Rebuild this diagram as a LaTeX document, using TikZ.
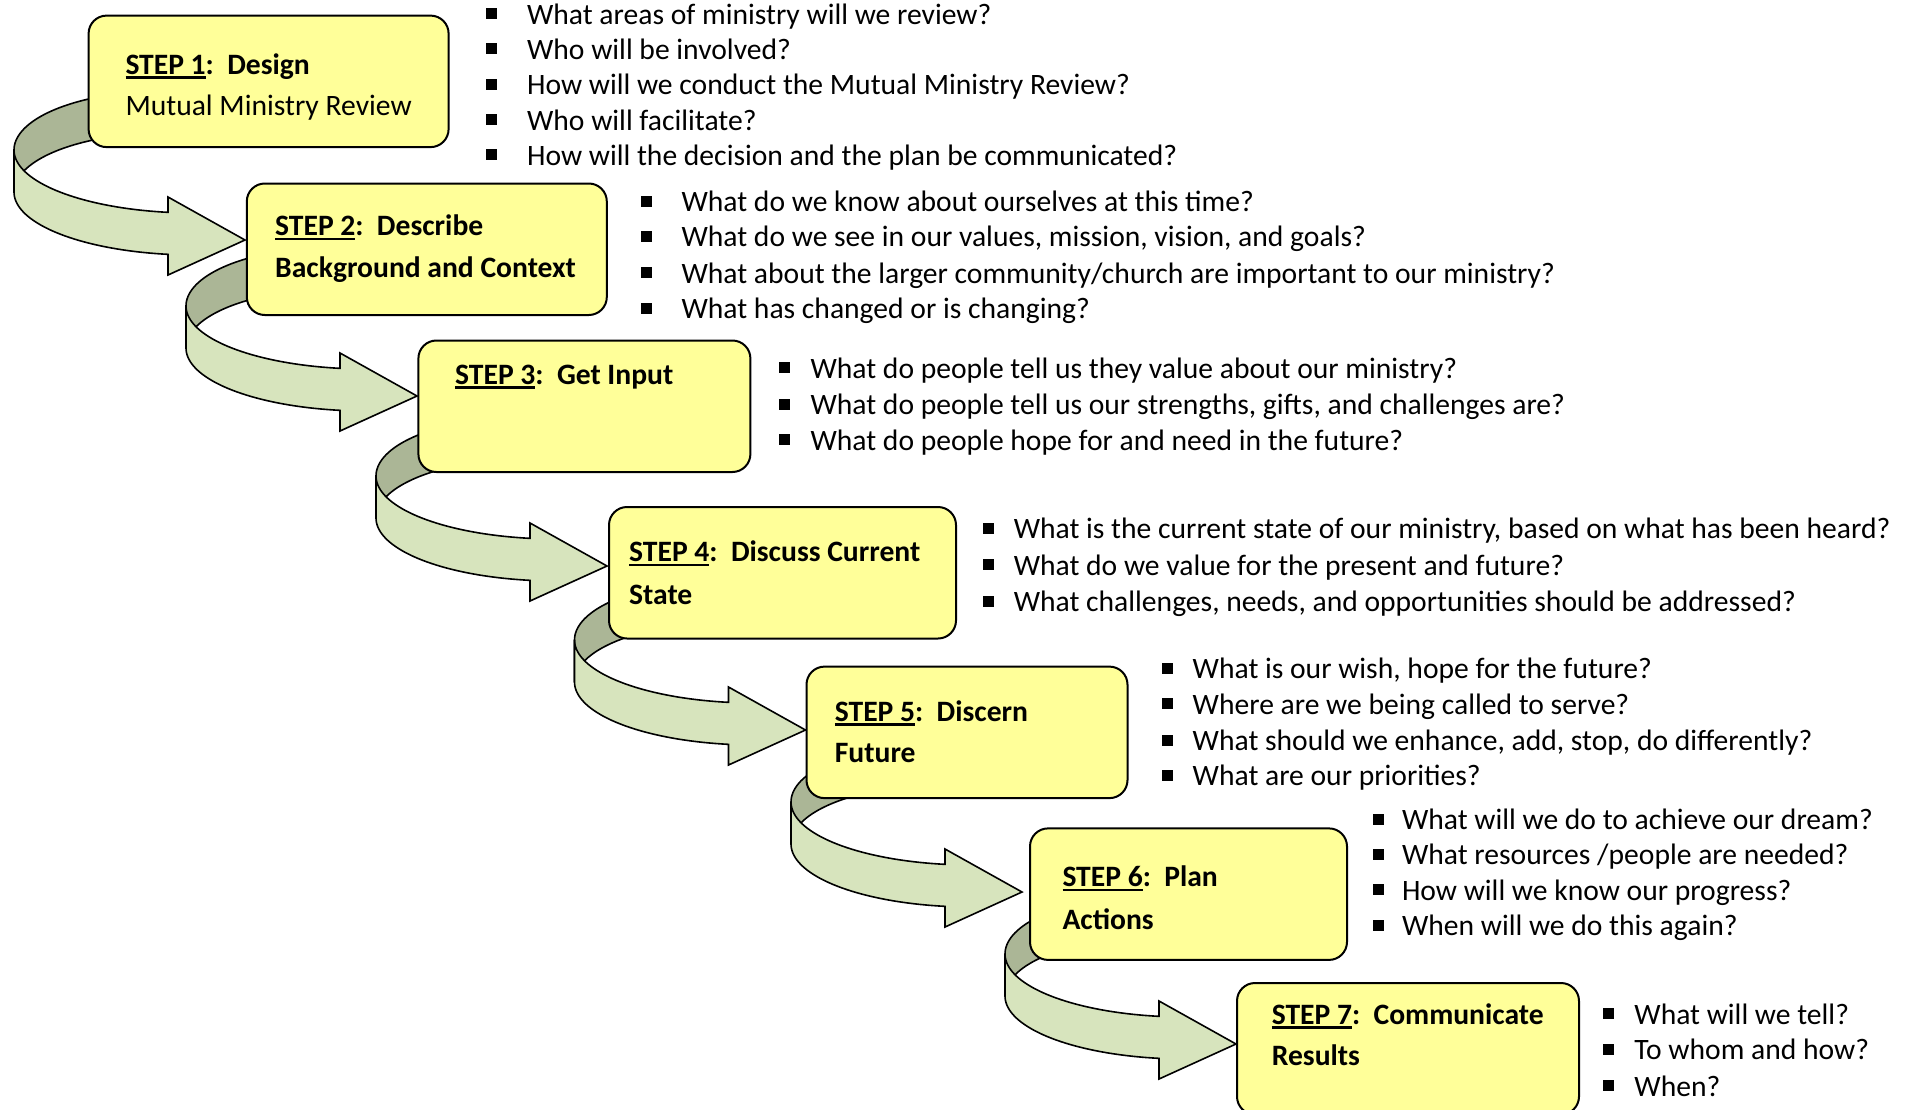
\documentclass[tikz,border=0pt]{standalone}
\usepackage{fontspec}
\setmainfont{Carlito}
\definecolor{boxfill}{HTML}{FFFF99}
\definecolor{bandlight}{HTML}{D7E4BD}
\definecolor{banddark}{HTML}{ABB696}
\newcommand{\stepul}[1]{\setbox0\hbox{#1}\rlap{\rule[-4.5pt]{\wd0}{2.8pt}}\box0}
\newcommand{\mmrarrow}[3]{%
  \begin{scope}[shift={(#2,#3)}]
    \path[fill=banddark,draw=black,line width=1.6pt,line join=round]
      plot[domain=180:90,samples=40] ({-81+150*cos(\x)},{-90-59*sin(\x)})
      -- plot[domain=90:180,samples=40] ({-81+150*cos(\x)},{-48-59*sin(\x)}) -- cycle;
    \path[fill=bandlight,draw=black,line width=1.6pt,line join=miter]
      plot[domain=180:98.3,samples=40] ({-51+180*cos(\x)},{-90+63*sin(\x)})
      -- (-77,-43) -- (0,0) coordinate (#1) -- (-77,35)
      -- plot[domain=98.3:180,samples=40] ({-51+180*cos(\x)},{-48+63*sin(\x)}) -- cycle;
  \end{scope}}
\begin{document}
\begin{tikzpicture}[x=1pt,y=-1pt,
  stepbox/.style={draw=black,line width=2pt,fill=boxfill,rounded corners=18pt,inner sep=0,anchor=north west},
  lbl/.style={anchor=base west,inner sep=0,font=\fontsize{29.6}{35}\selectfont},
  blbl/.style={anchor=base west,inner sep=0,font=\fontsize{29.6}{35}\selectfont\bfseries},
  bsq/.style={fill=black,minimum size=11pt,inner sep=0}]
\useasboundingbox (0,0) rectangle (1908,1109);
\clip (0,0) rectangle (1908,1109);

% curved arrows
\mmrarrow{t1}{245}{240}
\mmrarrow{t2}{417}{396}
\mmrarrow{t3}{607}{566}
\mmrarrow{t4}{805.5}{730}
\mmrarrow{t5}{1022}{892}
\mmrarrow{t6}{1236}{1044}

% step boxes
\node[stepbox,minimum width=360pt,minimum height=131.5pt] (b1) at (87.6,14.6) {};
\node[stepbox,minimum width=360pt,minimum height=131.5pt] (b2) at (245.8,182.5) {};
\node[stepbox,minimum width=332pt,minimum height=131.5pt] (b3) at (417.4,339.5) {};
\node[stepbox,minimum width=347pt,minimum height=131.5pt] (b4) at (608,506) {};
\node[stepbox,minimum width=321pt,minimum height=131.5pt] (b5) at (805.5,665.6) {};
\node[stepbox,minimum width=317pt,minimum height=131.5pt] (b6) at (1029,827.4) {};
\node[stepbox,minimum width=342pt,minimum height=131.5pt] (b7) at (1236,982) {};

% box texts
\node[blbl] (s1a) at (125.3,74) {\stepul{STEP 1}:\ \ Design};
\node[lbl]  (s1b) at (125.3,115.4) {Mutual Ministry Review};
\node[blbl] (s2a) at (275,235.8) {\stepul{STEP 2}:\ \ Describe};
\node[blbl] (s2b) at (275,277.2) {Background and Context};
\node[blbl] (s3a) at (455,384.3) {\stepul{STEP 3}:\ \ Get Input};
\node[blbl] (s4a) at (629,561.9) {\stepul{STEP 4}:\ \ Discuss Current};
\node[blbl] (s4b) at (629,604.5) {State};
\node[blbl] (s5a) at (834.7,721.3) {\stepul{STEP 5}:\ \ Discern};
\node[blbl] (s5b) at (834.7,762.7) {Future};
\node[blbl] (s6a) at (1062.3,886.8) {\stepul{STEP 6}:\ \ Plan};
\node[blbl] (s6b) at (1062.3,929.4) {Actions};
\node[blbl] (s7a) at (1271.6,1024.3) {\stepul{STEP 7}:\ \ Communicate};
\node[blbl] (s7b) at (1271.6,1065.7) {Results};

% question lists
\foreach \yy/\tt [count=\i] in {24.1/{What areas of ministry will we review?},59.4/{Who will be involved?},94.7/{How will we conduct the Mutual Ministry Review?},130/{Who will facilitate?},165.3/{How will the decision and the plan be communicated?}}
  {\node[bsq] (q1b\i) at (491.6,\yy-10.5) {}; \node[lbl] (q1t\i) at (526.9,\yy) {\tt};}
\foreach \yy/\tt [count=\i] in {211.5/{What do we know about ourselves at this time?},246.8/{What do we see in our values, mission, vision, and goals?},283.3/{What about the larger community/church are important to our ministry?},318.6/{What has changed or is changing?}}
  {\node[bsq] (q2b\i) at (646,\yy-10.5) {}; \node[lbl] (q2t\i) at (681.4,\yy) {\tt};}
\foreach \yy/\tt [count=\i] in {378.2/{What do people tell us they value about our ministry?},414.7/{What do people tell us our strengths, gifts, and challenges are?},450/{What do people hope for and need in the future?}}
  {\node[bsq] (q3b\i) at (784.8,\yy-10.5) {}; \node[lbl] (q3t\i) at (810.4,\yy) {\tt};}
\foreach \yy/\tt [count=\i] in {538.8/{What is the current state of our ministry, based on what has been heard?},575.3/{What do we value for the present and future?},611.8/{What challenges, needs, and opportunities should be addressed?}}
  {\node[bsq] (q4b\i) at (988,\yy-10.5) {}; \node[lbl] (q4t\i) at (1013.6,\yy) {\tt};}
\foreach \yy/\tt [count=\i] in {678.7/{What is our wish, hope for the future?},714/{Where are we being called to serve?},750.5/{What should we enhance, add, stop, do differently?},785.8/{What are our priorities?}}
  {\node[bsq] (q5b\i) at (1167,\yy-10.5) {}; \node[lbl] (q5t\i) at (1192.5,\yy) {\tt};}
\foreach \yy/\tt [count=\i] in {829.6/{What will we do to achieve our dream?},864.9/{What resources /people are needed?},900.2/{How will we know our progress?},935.5/{When will we do this again?}}
  {\node[bsq] (q6b\i) at (1378.6,\yy-10.5) {}; \node[lbl] (q6t\i) at (1401.8,\yy) {\tt};}
\foreach \yy/\tt [count=\i] in {1024.3/{What will we tell?},1059.6/{To whom and how?},1096.1/{When?}}
  {\node[bsq] (q7b\i) at (1608.6,\yy-10.5) {}; \node[lbl] (q7t\i) at (1634.2,\yy) {\tt};}
\end{tikzpicture}
\end{document}
